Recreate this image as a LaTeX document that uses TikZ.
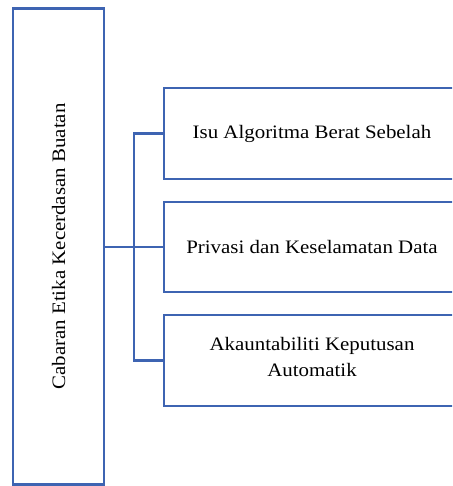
\documentclass[tikz,border=0pt]{standalone}
\usepackage{fontspec}
\setmainfont{Liberation Serif}
\newfontfamily\widefont[FakeStretch=1.1]{Liberation Serif}
\definecolor{boxblue}{RGB}{62,100,178}
\begin{document}
\begin{tikzpicture}[x=1pt,y=-1pt,
  boxline/.style={draw=boxblue,line width=2.2pt},
  conn/.style={draw=boxblue,line width=2.2pt},
  lbl/.style={font=\widefont\fontsize{19}{26}\selectfont,align=center,text=black}]
\useasboundingbox (0,0) rectangle (452,486);
\clip (0,0) rectangle (452,486);
% left box
\node[boxline,minimum width=91pt,minimum height=476pt,inner sep=0pt] (main) at (58.5,246.5) {};
\node[lbl,rotate=90] at (main.center) {Cabaran Etika Kecerdasan Buatan};
% right boxes
\node[boxline,minimum width=298pt,minimum height=91pt,inner sep=0pt,anchor=west] (b1) at (163,133.5) {};
\node[lbl] at (312,133.5) {Isu Algoritma Berat Sebelah};
\node[boxline,minimum width=298pt,minimum height=90pt,inner sep=0pt,anchor=west] (b2) at (163,247) {};
\node[lbl] at (312,247) {Privasi dan Keselamatan Data};
\node[boxline,minimum width=298pt,minimum height=91pt,inner sep=0pt,anchor=west] (b3) at (163,360.5) {};
\node[lbl] at (312,357) {Akauntabiliti Keputusan\\Automatik};
% connectors
\coordinate (j) at (134,247);
\draw[conn] (main.east |- j) -- (j);
\draw[conn] (j) -- (b2.west);
\draw[conn] (b1.west) -| (134,133.5) -- (134,360.5) -- (b3.west);
\end{tikzpicture}
\end{document}
